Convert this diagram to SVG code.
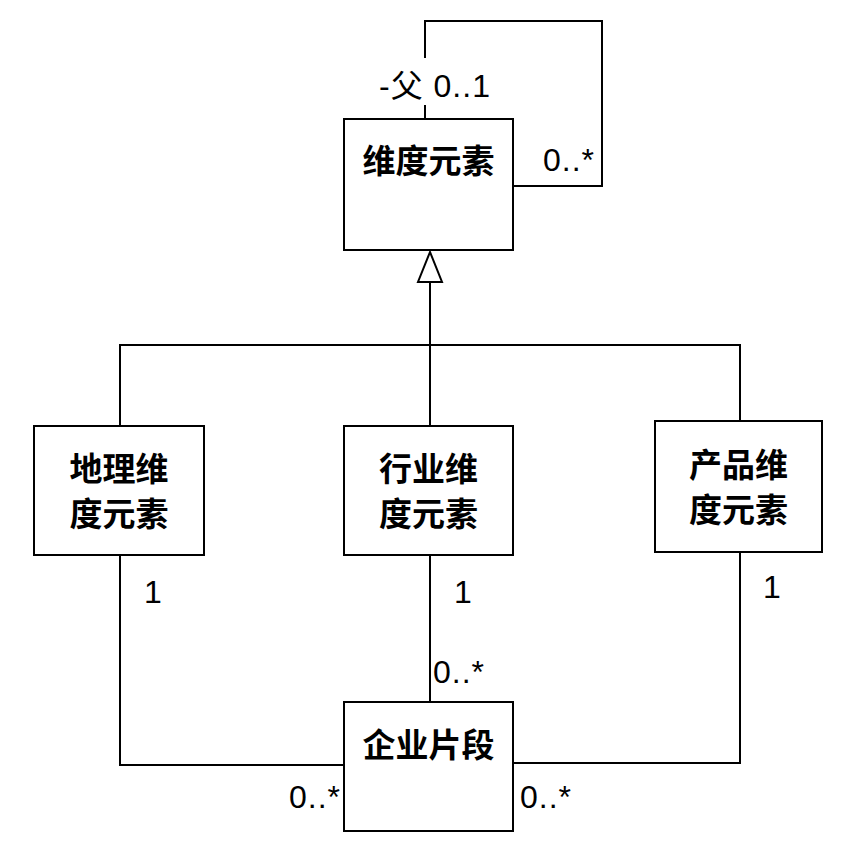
<svg xmlns="http://www.w3.org/2000/svg" width="841" height="863" viewBox="0 0 841 863">
<style>
.box{fill:#fff;stroke:#000;stroke-width:2}
.ln{fill:none;stroke:#000;stroke-width:2}
.t{font-family:"Noto Sans CJK SC","Liberation Sans",sans-serif;font-weight:bold;font-size:33px;text-anchor:middle;fill:#000}
.l{font-family:"Liberation Sans","Noto Sans CJK SC",sans-serif;font-size:32px;letter-spacing:1px;fill:#000}
</style>
<rect width="841" height="863" fill="#fff"/>
<g id="connectors">
<path class="ln" d="M425,119 V105 M425,58 V21 H602 V186 H513"/>
<path class="ln" d="M430,282 V426 M120,426 V345 H740 V421"/>
<path class="ln" d="M430,252 L418,282 L442,282 Z" style="fill:#fff"/>
<path class="ln" d="M120,555 V765 H344 M430,555 V702 M740,552 V763 H513"/>
<text class="l" x="379" y="97">-父 0..1</text>
<text class="l" x="543" y="171">0..*</text>
<text class="l" x="144" y="603">1</text>
<text class="l" x="454" y="603">1</text>
<text class="l" x="763" y="598">1</text>
<text class="l" x="433" y="683">0..*</text>
<text class="l" x="341" y="808" text-anchor="end">0..*</text>
<text class="l" x="520" y="808">0..*</text>
</g>
<g id="dim"><rect class="box" x="344" y="119" width="169" height="131"/><text class="t" x="428.5" y="173">维度元素</text></g>
<g id="geo"><rect class="box" x="34" y="426" width="170" height="129"/><text class="t" x="119" y="481">地理维</text><text class="t" x="119" y="526">度元素</text></g>
<g id="ind"><rect class="box" x="344" y="426" width="169" height="129"/><text class="t" x="428.5" y="481">行业维</text><text class="t" x="428.5" y="526">度元素</text></g>
<g id="prod"><rect class="box" x="655" y="421" width="167" height="131"/><text class="t" x="738.5" y="477">产品维</text><text class="t" x="738.5" y="522">度元素</text></g>
<g id="seg"><rect class="box" x="344" y="702" width="169" height="129"/><text class="t" x="428.5" y="757">企业片段</text></g>
</svg>
